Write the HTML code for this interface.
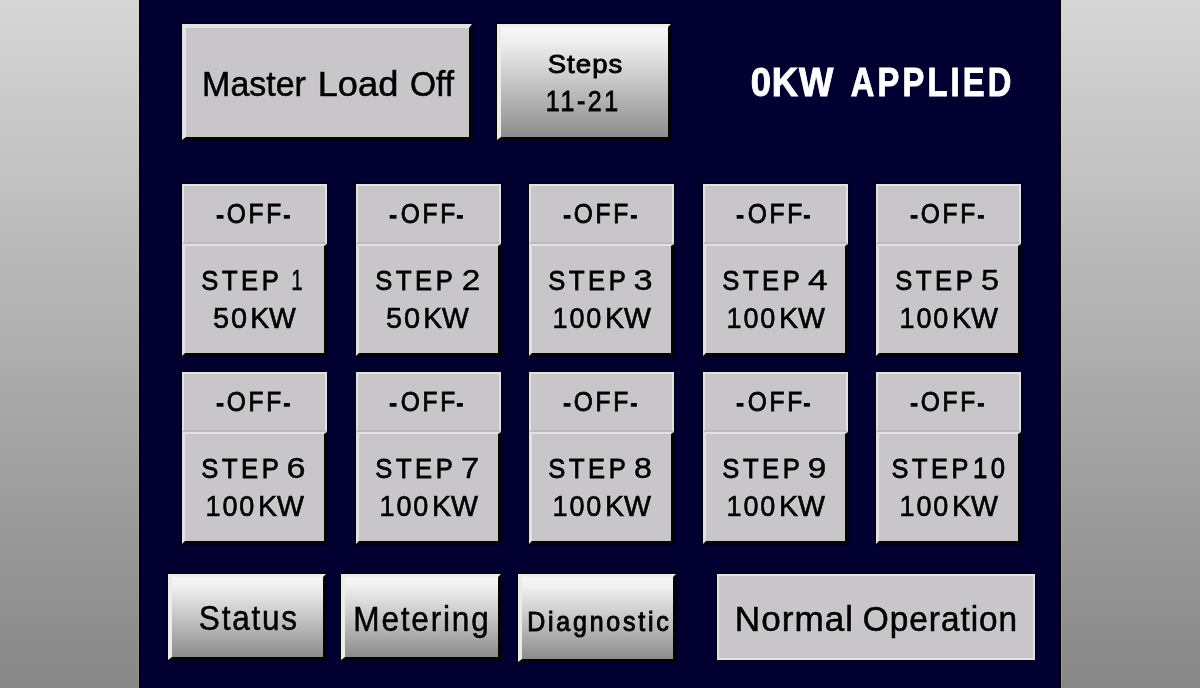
<!DOCTYPE html>
<html><head><meta charset="utf-8"><style>
html,body{margin:0;padding:0;width:1200px;height:688px;overflow:hidden;background:#010030;}
#wrap{position:absolute;left:0;top:0;width:1200px;height:688px;filter:blur(0.65px);}
#wrapt{position:absolute;left:0;top:0;width:1200px;height:688px;filter:blur(0.4px);}
.b{position:absolute;box-sizing:content-box;}
.h{box-shadow:0 0 1.5px 1px rgba(0,0,6,0.75);}
.t{position:absolute;white-space:nowrap;line-height:1;font-family:"Liberation Sans", sans-serif;transform-origin:50% 0;}
</style></head><body><div id="wrap">
<div class="b" style="left:0;top:0;width:139px;height:688px;background:linear-gradient(#d6d6d6,#878787)"></div>
<div class="b" style="left:1061px;top:0;width:139px;height:688px;background:linear-gradient(#d6d6d6,#878787)"></div>
<div class="b" style="left:139px;top:0;width:918px;height:688px;background:#010030;border-left:2px solid #00000c;border-right:2px solid #00000c"></div>
<div class="b" style="left:138px;top:0;width:1px;height:688px;background:rgba(230,230,255,0.12)"></div>
<div class="b" style="left:1061px;top:0;width:1px;height:688px;background:rgba(230,230,255,0.18)"></div>
<div class="b h" style="left:182px;top:24px;width:283px;height:109px;background:#c8c6c9;border-style:solid;border-width:4px 3px 3px 4px;border-color:#e2e2e4 #040404 #040404 #e2e2e4;"></div>
<div class="b h" style="left:497px;top:24px;width:167px;height:110px;background:linear-gradient(#f6f6f6 0%, #f0f0f0 12%, #dcdcdc 30%, #c6c6c6 50%, #a8a8a8 76%, #8c8c8c 100%);border-style:solid;border-width:3px 3px 3px 4px;border-color:#ecece8 #040404 #040404 #ecece8;"></div>
<div class="b h" style="left:182px;top:184px;width:145px;height:172px;"></div>
<div class="b" style="left:182px;top:184px;width:141px;height:56px;background:#c8c6c9;border-style:solid;border-width:2px 2px 2px 2px;border-color:#e2e2e4 #e2e2e4 #bbb9bd #e2e2e4;"></div>
<div class="b" style="left:182px;top:244px;width:139px;height:107px;background:#c8c6c9;border-style:solid;border-width:2px 3px 3px 3px;border-color:#e2e2e4 #040404 #040404 #e2e2e4;"></div>
<div class="b h" style="left:355.5px;top:184px;width:145px;height:172px;"></div>
<div class="b" style="left:355.5px;top:184px;width:141px;height:56px;background:#c8c6c9;border-style:solid;border-width:2px 2px 2px 2px;border-color:#e2e2e4 #e2e2e4 #bbb9bd #e2e2e4;"></div>
<div class="b" style="left:355.5px;top:244px;width:139.0px;height:107px;background:#c8c6c9;border-style:solid;border-width:2px 3px 3px 3px;border-color:#e2e2e4 #040404 #040404 #e2e2e4;"></div>
<div class="b h" style="left:529px;top:184px;width:145px;height:172px;"></div>
<div class="b" style="left:529px;top:184px;width:141px;height:56px;background:#c8c6c9;border-style:solid;border-width:2px 2px 2px 2px;border-color:#e2e2e4 #e2e2e4 #bbb9bd #e2e2e4;"></div>
<div class="b" style="left:529px;top:244px;width:139px;height:107px;background:#c8c6c9;border-style:solid;border-width:2px 3px 3px 3px;border-color:#e2e2e4 #040404 #040404 #e2e2e4;"></div>
<div class="b h" style="left:702.5px;top:184px;width:145px;height:172px;"></div>
<div class="b" style="left:702.5px;top:184px;width:141px;height:56px;background:#c8c6c9;border-style:solid;border-width:2px 2px 2px 2px;border-color:#e2e2e4 #e2e2e4 #bbb9bd #e2e2e4;"></div>
<div class="b" style="left:702.5px;top:244px;width:139.0px;height:107px;background:#c8c6c9;border-style:solid;border-width:2px 3px 3px 3px;border-color:#e2e2e4 #040404 #040404 #e2e2e4;"></div>
<div class="b h" style="left:876px;top:184px;width:145px;height:172px;"></div>
<div class="b" style="left:876px;top:184px;width:141px;height:56px;background:#c8c6c9;border-style:solid;border-width:2px 2px 2px 2px;border-color:#e2e2e4 #e2e2e4 #bbb9bd #e2e2e4;"></div>
<div class="b" style="left:876px;top:244px;width:139px;height:107px;background:#c8c6c9;border-style:solid;border-width:2px 3px 3px 3px;border-color:#e2e2e4 #040404 #040404 #e2e2e4;"></div>
<div class="b h" style="left:182px;top:372px;width:145px;height:172px;"></div>
<div class="b" style="left:182px;top:372px;width:141px;height:56px;background:#c8c6c9;border-style:solid;border-width:2px 2px 2px 2px;border-color:#e2e2e4 #e2e2e4 #bbb9bd #e2e2e4;"></div>
<div class="b" style="left:182px;top:432px;width:139px;height:107px;background:#c8c6c9;border-style:solid;border-width:2px 3px 3px 3px;border-color:#e2e2e4 #040404 #040404 #e2e2e4;"></div>
<div class="b h" style="left:355.5px;top:372px;width:145px;height:172px;"></div>
<div class="b" style="left:355.5px;top:372px;width:141px;height:56px;background:#c8c6c9;border-style:solid;border-width:2px 2px 2px 2px;border-color:#e2e2e4 #e2e2e4 #bbb9bd #e2e2e4;"></div>
<div class="b" style="left:355.5px;top:432px;width:139.0px;height:107px;background:#c8c6c9;border-style:solid;border-width:2px 3px 3px 3px;border-color:#e2e2e4 #040404 #040404 #e2e2e4;"></div>
<div class="b h" style="left:529px;top:372px;width:145px;height:172px;"></div>
<div class="b" style="left:529px;top:372px;width:141px;height:56px;background:#c8c6c9;border-style:solid;border-width:2px 2px 2px 2px;border-color:#e2e2e4 #e2e2e4 #bbb9bd #e2e2e4;"></div>
<div class="b" style="left:529px;top:432px;width:139px;height:107px;background:#c8c6c9;border-style:solid;border-width:2px 3px 3px 3px;border-color:#e2e2e4 #040404 #040404 #e2e2e4;"></div>
<div class="b h" style="left:702.5px;top:372px;width:145px;height:172px;"></div>
<div class="b" style="left:702.5px;top:372px;width:141px;height:56px;background:#c8c6c9;border-style:solid;border-width:2px 2px 2px 2px;border-color:#e2e2e4 #e2e2e4 #bbb9bd #e2e2e4;"></div>
<div class="b" style="left:702.5px;top:432px;width:139.0px;height:107px;background:#c8c6c9;border-style:solid;border-width:2px 3px 3px 3px;border-color:#e2e2e4 #040404 #040404 #e2e2e4;"></div>
<div class="b h" style="left:876px;top:372px;width:145px;height:172px;"></div>
<div class="b" style="left:876px;top:372px;width:141px;height:56px;background:#c8c6c9;border-style:solid;border-width:2px 2px 2px 2px;border-color:#e2e2e4 #e2e2e4 #bbb9bd #e2e2e4;"></div>
<div class="b" style="left:876px;top:432px;width:139px;height:107px;background:#c8c6c9;border-style:solid;border-width:2px 3px 3px 3px;border-color:#e2e2e4 #040404 #040404 #e2e2e4;"></div>
<div class="b h" style="left:168px;top:574px;width:151px;height:80px;background:linear-gradient(#f6f6f6 0%, #f0f0f0 12%, #dcdcdc 30%, #c6c6c6 50%, #a8a8a8 76%, #8c8c8c 100%);border-style:solid;border-width:3px 3px 3px 4px;border-color:#ecece8 #040404 #040404 #ecece8;"></div>
<div class="b h" style="left:341px;top:574px;width:153px;height:80px;background:linear-gradient(#f6f6f6 0%, #f0f0f0 12%, #dcdcdc 30%, #c6c6c6 50%, #a8a8a8 76%, #8c8c8c 100%);border-style:solid;border-width:3px 3px 3px 4px;border-color:#ecece8 #040404 #040404 #ecece8;"></div>
<div class="b h" style="left:518px;top:574px;width:151px;height:82px;background:linear-gradient(#f6f6f6 0%, #f0f0f0 12%, #dcdcdc 30%, #c6c6c6 50%, #a8a8a8 76%, #8c8c8c 100%);border-style:solid;border-width:3px 3px 3px 4px;border-color:#ecece8 #040404 #040404 #ecece8;"></div>
<div class="b h" style="left:717px;top:574px;width:314px;height:82px;background:#c8c6c9;border:2px solid #e2e2e4;"></div>
</div><div id="wrapt">
<div class="t" id="w_master" style="left:254.20px;top:65.94px;font-size:35.94px;font-weight:normal;color:#000;-webkit-text-stroke:0.6px #000;text-shadow:0 0 1.5px rgba(255,255,255,0.8);transform:translateX(-50%) scaleX(0.9454);">Master</div>
<div class="t" id="w_load" style="left:358.10px;top:65.94px;font-size:35.94px;font-weight:normal;color:#000;-webkit-text-stroke:0.6px #000;text-shadow:0 0 1.5px rgba(255,255,255,0.8);transform:translateX(-50%) scaleX(1.0085);">Load</div>
<div class="t" id="w_off" style="left:431.50px;top:65.94px;font-size:35.94px;font-weight:normal;color:#000;-webkit-text-stroke:0.6px #000;text-shadow:0 0 1.5px rgba(255,255,255,0.8);transform:translateX(-50%) scaleX(0.9305);">Off</div>
<div class="t" id="w_steps" style="left:585.30px;top:51.01px;font-size:26.00px;font-weight:normal;color:#000;-webkit-text-stroke:0.9px #000;letter-spacing:1px;padding-left:1px;text-shadow:0 0 1.5px rgba(255,255,255,0.8);transform:translateX(-50%) scaleX(1.0588);">Steps</div>
<div class="t" id="w_1121" style="left:581.60px;top:87.10px;font-size:28.84px;font-weight:normal;color:#000;-webkit-text-stroke:0.9px #000;letter-spacing:3px;padding-left:3px;text-shadow:0 0 1.5px rgba(255,255,255,0.8);transform:translateX(-50%) scaleX(0.8659);">11-21</div>
<div class="t" id="w_0kw" style="left:792.00px;top:62.09px;font-size:41.33px;font-weight:bold;color:#fff;-webkit-text-stroke:1.0px #fff;letter-spacing:1px;padding-left:1px;transform:translateX(-50%) scaleX(0.8797);">0KW</div>
<div class="t" id="w_applied" style="left:930.60px;top:62.09px;font-size:41.33px;font-weight:bold;color:#fff;-webkit-text-stroke:1.0px #fff;letter-spacing:4px;padding-left:4px;transform:translateX(-50%) scaleX(0.7903);">APPLIED</div>
<div class="t" id="t1_offa" style="left:219.70px;top:199.87px;font-size:28.44px;font-weight:normal;color:#000;-webkit-text-stroke:1.5px #000;text-shadow:0 0 1.5px rgba(255,255,255,0.8);transform:translateX(-50%) scaleX(0.8127);">-</div>
<div class="t" id="t1_off" style="left:254.40px;top:199.07px;font-size:28.44px;font-weight:normal;color:#000;-webkit-text-stroke:0.9px #000;letter-spacing:3px;padding-left:3px;text-shadow:0 0 1.5px rgba(255,255,255,0.8);transform:translateX(-50%) scaleX(0.8635);">OFF</div>
<div class="t" id="t1_offb" style="left:286.50px;top:199.87px;font-size:28.44px;font-weight:normal;color:#000;-webkit-text-stroke:1.5px #000;text-shadow:0 0 1.5px rgba(255,255,255,0.8);transform:translateX(-50%) scaleX(0.7131);">-</div>
<div class="t" id="t1_step" style="left:240.00px;top:266.10px;font-size:28.45px;font-weight:normal;color:#000;-webkit-text-stroke:0.9px #000;letter-spacing:4px;padding-left:4px;text-shadow:0 0 1.5px rgba(255,255,255,0.8);transform:translateX(-50%) scaleX(0.8980);">STEP</div>
<div class="t" id="t1_n" style="left:296.80px;top:265.88px;font-size:28.94px;font-weight:normal;color:#000;-webkit-text-stroke:0.5px #000;text-shadow:0 0 1.5px rgba(255,255,255,0.8);transform:translateX(-50%) scaleX(0.7123);">1</div>
<div class="t" id="t1_num" style="left:229.67px;top:304.00px;font-size:29.07px;font-weight:normal;color:#000;-webkit-text-stroke:0.7px #000;letter-spacing:2px;padding-left:2px;text-shadow:0 0 1.5px rgba(255,255,255,0.8);transform:translateX(-50%) scaleX(0.9946);">50</div>
<div class="t" id="t1_kw" style="left:272.60px;top:304.00px;font-size:29.07px;font-weight:normal;color:#000;-webkit-text-stroke:0.7px #000;text-shadow:0 0 1.5px rgba(255,255,255,0.8);transform:translateX(-50%) scaleX(0.9743);">KW</div>
<div class="t" id="t2_offa" style="left:393.20px;top:199.87px;font-size:28.44px;font-weight:normal;color:#000;-webkit-text-stroke:1.5px #000;text-shadow:0 0 1.5px rgba(255,255,255,0.8);transform:translateX(-50%) scaleX(0.8127);">-</div>
<div class="t" id="t2_off" style="left:427.90px;top:199.07px;font-size:28.44px;font-weight:normal;color:#000;-webkit-text-stroke:0.9px #000;letter-spacing:3px;padding-left:3px;text-shadow:0 0 1.5px rgba(255,255,255,0.8);transform:translateX(-50%) scaleX(0.8635);">OFF</div>
<div class="t" id="t2_offb" style="left:460.00px;top:199.87px;font-size:28.44px;font-weight:normal;color:#000;-webkit-text-stroke:1.5px #000;text-shadow:0 0 1.5px rgba(255,255,255,0.8);transform:translateX(-50%) scaleX(0.7131);">-</div>
<div class="t" id="t2_step" style="left:413.50px;top:266.10px;font-size:28.45px;font-weight:normal;color:#000;-webkit-text-stroke:0.9px #000;letter-spacing:4px;padding-left:4px;text-shadow:0 0 1.5px rgba(255,255,255,0.8);transform:translateX(-50%) scaleX(0.8980);">STEP</div>
<div class="t" id="t2_n" style="left:470.70px;top:265.87px;font-size:28.93px;font-weight:normal;color:#000;-webkit-text-stroke:0.5px #000;text-shadow:0 0 1.5px rgba(255,255,255,0.8);transform:translateX(-50%) scaleX(1.1524);">2</div>
<div class="t" id="t2_num" style="left:403.17px;top:304.00px;font-size:29.07px;font-weight:normal;color:#000;-webkit-text-stroke:0.7px #000;letter-spacing:2px;padding-left:2px;text-shadow:0 0 1.5px rgba(255,255,255,0.8);transform:translateX(-50%) scaleX(0.9946);">50</div>
<div class="t" id="t2_kw" style="left:446.10px;top:304.00px;font-size:29.07px;font-weight:normal;color:#000;-webkit-text-stroke:0.7px #000;text-shadow:0 0 1.5px rgba(255,255,255,0.8);transform:translateX(-50%) scaleX(0.9743);">KW</div>
<div class="t" id="t3_offa" style="left:566.70px;top:199.87px;font-size:28.44px;font-weight:normal;color:#000;-webkit-text-stroke:1.5px #000;text-shadow:0 0 1.5px rgba(255,255,255,0.8);transform:translateX(-50%) scaleX(0.8127);">-</div>
<div class="t" id="t3_off" style="left:601.40px;top:199.07px;font-size:28.44px;font-weight:normal;color:#000;-webkit-text-stroke:0.9px #000;letter-spacing:3px;padding-left:3px;text-shadow:0 0 1.5px rgba(255,255,255,0.8);transform:translateX(-50%) scaleX(0.8635);">OFF</div>
<div class="t" id="t3_offb" style="left:633.50px;top:199.87px;font-size:28.44px;font-weight:normal;color:#000;-webkit-text-stroke:1.5px #000;text-shadow:0 0 1.5px rgba(255,255,255,0.8);transform:translateX(-50%) scaleX(0.7131);">-</div>
<div class="t" id="t3_step" style="left:587.00px;top:266.10px;font-size:28.45px;font-weight:normal;color:#000;-webkit-text-stroke:0.9px #000;letter-spacing:4px;padding-left:4px;text-shadow:0 0 1.5px rgba(255,255,255,0.8);transform:translateX(-50%) scaleX(0.8980);">STEP</div>
<div class="t" id="t3_n" style="left:642.70px;top:265.87px;font-size:28.93px;font-weight:normal;color:#000;-webkit-text-stroke:0.5px #000;text-shadow:0 0 1.5px rgba(255,255,255,0.8);transform:translateX(-50%) scaleX(1.1861);">3</div>
<div class="t" id="t3_num" style="left:577.41px;top:304.00px;font-size:29.07px;font-weight:normal;color:#000;-webkit-text-stroke:0.7px #000;letter-spacing:2px;padding-left:2px;text-shadow:0 0 1.5px rgba(255,255,255,0.8);transform:translateX(-50%) scaleX(0.9291);">100</div>
<div class="t" id="t3_kw" style="left:628.21px;top:304.00px;font-size:29.07px;font-weight:normal;color:#000;-webkit-text-stroke:0.7px #000;text-shadow:0 0 1.5px rgba(255,255,255,0.8);transform:translateX(-50%) scaleX(0.9812);">KW</div>
<div class="t" id="t4_offa" style="left:740.20px;top:199.87px;font-size:28.44px;font-weight:normal;color:#000;-webkit-text-stroke:1.5px #000;text-shadow:0 0 1.5px rgba(255,255,255,0.8);transform:translateX(-50%) scaleX(0.8127);">-</div>
<div class="t" id="t4_off" style="left:774.90px;top:199.07px;font-size:28.44px;font-weight:normal;color:#000;-webkit-text-stroke:0.9px #000;letter-spacing:3px;padding-left:3px;text-shadow:0 0 1.5px rgba(255,255,255,0.8);transform:translateX(-50%) scaleX(0.8635);">OFF</div>
<div class="t" id="t4_offb" style="left:807.00px;top:199.87px;font-size:28.44px;font-weight:normal;color:#000;-webkit-text-stroke:1.5px #000;text-shadow:0 0 1.5px rgba(255,255,255,0.8);transform:translateX(-50%) scaleX(0.7131);">-</div>
<div class="t" id="t4_step" style="left:760.50px;top:266.10px;font-size:28.45px;font-weight:normal;color:#000;-webkit-text-stroke:0.9px #000;letter-spacing:4px;padding-left:4px;text-shadow:0 0 1.5px rgba(255,255,255,0.8);transform:translateX(-50%) scaleX(0.8980);">STEP</div>
<div class="t" id="t4_n" style="left:818.20px;top:265.87px;font-size:28.93px;font-weight:normal;color:#000;-webkit-text-stroke:0.5px #000;text-shadow:0 0 1.5px rgba(255,255,255,0.8);transform:translateX(-50%) scaleX(1.2279);">4</div>
<div class="t" id="t4_num" style="left:750.91px;top:304.00px;font-size:29.07px;font-weight:normal;color:#000;-webkit-text-stroke:0.7px #000;letter-spacing:2px;padding-left:2px;text-shadow:0 0 1.5px rgba(255,255,255,0.8);transform:translateX(-50%) scaleX(0.9291);">100</div>
<div class="t" id="t4_kw" style="left:801.71px;top:304.00px;font-size:29.07px;font-weight:normal;color:#000;-webkit-text-stroke:0.7px #000;text-shadow:0 0 1.5px rgba(255,255,255,0.8);transform:translateX(-50%) scaleX(0.9812);">KW</div>
<div class="t" id="t5_offa" style="left:913.70px;top:199.87px;font-size:28.44px;font-weight:normal;color:#000;-webkit-text-stroke:1.5px #000;text-shadow:0 0 1.5px rgba(255,255,255,0.8);transform:translateX(-50%) scaleX(0.8127);">-</div>
<div class="t" id="t5_off" style="left:948.40px;top:199.07px;font-size:28.44px;font-weight:normal;color:#000;-webkit-text-stroke:0.9px #000;letter-spacing:3px;padding-left:3px;text-shadow:0 0 1.5px rgba(255,255,255,0.8);transform:translateX(-50%) scaleX(0.8635);">OFF</div>
<div class="t" id="t5_offb" style="left:980.50px;top:199.87px;font-size:28.44px;font-weight:normal;color:#000;-webkit-text-stroke:1.5px #000;text-shadow:0 0 1.5px rgba(255,255,255,0.8);transform:translateX(-50%) scaleX(0.7131);">-</div>
<div class="t" id="t5_step" style="left:934.00px;top:266.10px;font-size:28.45px;font-weight:normal;color:#000;-webkit-text-stroke:0.9px #000;letter-spacing:4px;padding-left:4px;text-shadow:0 0 1.5px rgba(255,255,255,0.8);transform:translateX(-50%) scaleX(0.8980);">STEP</div>
<div class="t" id="t5_n" style="left:990.20px;top:265.87px;font-size:28.93px;font-weight:normal;color:#000;-webkit-text-stroke:0.5px #000;text-shadow:0 0 1.5px rgba(255,255,255,0.8);transform:translateX(-50%) scaleX(1.1182);">5</div>
<div class="t" id="t5_num" style="left:924.41px;top:304.00px;font-size:29.07px;font-weight:normal;color:#000;-webkit-text-stroke:0.7px #000;letter-spacing:2px;padding-left:2px;text-shadow:0 0 1.5px rgba(255,255,255,0.8);transform:translateX(-50%) scaleX(0.9291);">100</div>
<div class="t" id="t5_kw" style="left:975.21px;top:304.00px;font-size:29.07px;font-weight:normal;color:#000;-webkit-text-stroke:0.7px #000;text-shadow:0 0 1.5px rgba(255,255,255,0.8);transform:translateX(-50%) scaleX(0.9812);">KW</div>
<div class="t" id="t6_offa" style="left:219.70px;top:387.87px;font-size:28.44px;font-weight:normal;color:#000;-webkit-text-stroke:1.5px #000;text-shadow:0 0 1.5px rgba(255,255,255,0.8);transform:translateX(-50%) scaleX(0.8127);">-</div>
<div class="t" id="t6_off" style="left:254.40px;top:387.07px;font-size:28.44px;font-weight:normal;color:#000;-webkit-text-stroke:0.9px #000;letter-spacing:3px;padding-left:3px;text-shadow:0 0 1.5px rgba(255,255,255,0.8);transform:translateX(-50%) scaleX(0.8635);">OFF</div>
<div class="t" id="t6_offb" style="left:286.50px;top:387.87px;font-size:28.44px;font-weight:normal;color:#000;-webkit-text-stroke:1.5px #000;text-shadow:0 0 1.5px rgba(255,255,255,0.8);transform:translateX(-50%) scaleX(0.7131);">-</div>
<div class="t" id="t6_step" style="left:240.00px;top:454.10px;font-size:28.45px;font-weight:normal;color:#000;-webkit-text-stroke:0.9px #000;letter-spacing:4px;padding-left:4px;text-shadow:0 0 1.5px rgba(255,255,255,0.8);transform:translateX(-50%) scaleX(0.8980);">STEP</div>
<div class="t" id="t6_n" style="left:295.70px;top:453.87px;font-size:28.93px;font-weight:normal;color:#000;-webkit-text-stroke:0.5px #000;text-shadow:0 0 1.5px rgba(255,255,255,0.8);transform:translateX(-50%) scaleX(1.1798);">6</div>
<div class="t" id="t6_num" style="left:230.41px;top:492.00px;font-size:29.07px;font-weight:normal;color:#000;-webkit-text-stroke:0.7px #000;letter-spacing:2px;padding-left:2px;text-shadow:0 0 1.5px rgba(255,255,255,0.8);transform:translateX(-50%) scaleX(0.9291);">100</div>
<div class="t" id="t6_kw" style="left:281.21px;top:492.00px;font-size:29.07px;font-weight:normal;color:#000;-webkit-text-stroke:0.7px #000;text-shadow:0 0 1.5px rgba(255,255,255,0.8);transform:translateX(-50%) scaleX(0.9812);">KW</div>
<div class="t" id="t7_offa" style="left:393.20px;top:387.87px;font-size:28.44px;font-weight:normal;color:#000;-webkit-text-stroke:1.5px #000;text-shadow:0 0 1.5px rgba(255,255,255,0.8);transform:translateX(-50%) scaleX(0.8127);">-</div>
<div class="t" id="t7_off" style="left:427.90px;top:387.07px;font-size:28.44px;font-weight:normal;color:#000;-webkit-text-stroke:0.9px #000;letter-spacing:3px;padding-left:3px;text-shadow:0 0 1.5px rgba(255,255,255,0.8);transform:translateX(-50%) scaleX(0.8635);">OFF</div>
<div class="t" id="t7_offb" style="left:460.00px;top:387.87px;font-size:28.44px;font-weight:normal;color:#000;-webkit-text-stroke:1.5px #000;text-shadow:0 0 1.5px rgba(255,255,255,0.8);transform:translateX(-50%) scaleX(0.7131);">-</div>
<div class="t" id="t7_step" style="left:413.50px;top:454.10px;font-size:28.45px;font-weight:normal;color:#000;-webkit-text-stroke:0.9px #000;letter-spacing:4px;padding-left:4px;text-shadow:0 0 1.5px rgba(255,255,255,0.8);transform:translateX(-50%) scaleX(0.8980);">STEP</div>
<div class="t" id="t7_n" style="left:470.45px;top:453.87px;font-size:28.93px;font-weight:normal;color:#000;-webkit-text-stroke:0.5px #000;text-shadow:0 0 1.5px rgba(255,255,255,0.8);transform:translateX(-50%) scaleX(1.1307);">7</div>
<div class="t" id="t7_num" style="left:403.91px;top:492.00px;font-size:29.07px;font-weight:normal;color:#000;-webkit-text-stroke:0.7px #000;letter-spacing:2px;padding-left:2px;text-shadow:0 0 1.5px rgba(255,255,255,0.8);transform:translateX(-50%) scaleX(0.9291);">100</div>
<div class="t" id="t7_kw" style="left:454.71px;top:492.00px;font-size:29.07px;font-weight:normal;color:#000;-webkit-text-stroke:0.7px #000;text-shadow:0 0 1.5px rgba(255,255,255,0.8);transform:translateX(-50%) scaleX(0.9812);">KW</div>
<div class="t" id="t8_offa" style="left:566.70px;top:387.87px;font-size:28.44px;font-weight:normal;color:#000;-webkit-text-stroke:1.5px #000;text-shadow:0 0 1.5px rgba(255,255,255,0.8);transform:translateX(-50%) scaleX(0.8127);">-</div>
<div class="t" id="t8_off" style="left:601.40px;top:387.07px;font-size:28.44px;font-weight:normal;color:#000;-webkit-text-stroke:0.9px #000;letter-spacing:3px;padding-left:3px;text-shadow:0 0 1.5px rgba(255,255,255,0.8);transform:translateX(-50%) scaleX(0.8635);">OFF</div>
<div class="t" id="t8_offb" style="left:633.50px;top:387.87px;font-size:28.44px;font-weight:normal;color:#000;-webkit-text-stroke:1.5px #000;text-shadow:0 0 1.5px rgba(255,255,255,0.8);transform:translateX(-50%) scaleX(0.7131);">-</div>
<div class="t" id="t8_step" style="left:587.00px;top:454.10px;font-size:28.45px;font-weight:normal;color:#000;-webkit-text-stroke:0.9px #000;letter-spacing:4px;padding-left:4px;text-shadow:0 0 1.5px rgba(255,255,255,0.8);transform:translateX(-50%) scaleX(0.8980);">STEP</div>
<div class="t" id="t8_n" style="left:642.95px;top:453.87px;font-size:28.93px;font-weight:normal;color:#000;-webkit-text-stroke:0.5px #000;text-shadow:0 0 1.5px rgba(255,255,255,0.8);transform:translateX(-50%) scaleX(1.1076);">8</div>
<div class="t" id="t8_num" style="left:577.41px;top:492.00px;font-size:29.07px;font-weight:normal;color:#000;-webkit-text-stroke:0.7px #000;letter-spacing:2px;padding-left:2px;text-shadow:0 0 1.5px rgba(255,255,255,0.8);transform:translateX(-50%) scaleX(0.9291);">100</div>
<div class="t" id="t8_kw" style="left:628.21px;top:492.00px;font-size:29.07px;font-weight:normal;color:#000;-webkit-text-stroke:0.7px #000;text-shadow:0 0 1.5px rgba(255,255,255,0.8);transform:translateX(-50%) scaleX(0.9812);">KW</div>
<div class="t" id="t9_offa" style="left:740.20px;top:387.87px;font-size:28.44px;font-weight:normal;color:#000;-webkit-text-stroke:1.5px #000;text-shadow:0 0 1.5px rgba(255,255,255,0.8);transform:translateX(-50%) scaleX(0.8127);">-</div>
<div class="t" id="t9_off" style="left:774.90px;top:387.07px;font-size:28.44px;font-weight:normal;color:#000;-webkit-text-stroke:0.9px #000;letter-spacing:3px;padding-left:3px;text-shadow:0 0 1.5px rgba(255,255,255,0.8);transform:translateX(-50%) scaleX(0.8635);">OFF</div>
<div class="t" id="t9_offb" style="left:807.00px;top:387.87px;font-size:28.44px;font-weight:normal;color:#000;-webkit-text-stroke:1.5px #000;text-shadow:0 0 1.5px rgba(255,255,255,0.8);transform:translateX(-50%) scaleX(0.7131);">-</div>
<div class="t" id="t9_step" style="left:760.50px;top:454.10px;font-size:28.45px;font-weight:normal;color:#000;-webkit-text-stroke:0.9px #000;letter-spacing:4px;padding-left:4px;text-shadow:0 0 1.5px rgba(255,255,255,0.8);transform:translateX(-50%) scaleX(0.8980);">STEP</div>
<div class="t" id="t9_n" style="left:816.95px;top:453.87px;font-size:28.93px;font-weight:normal;color:#000;-webkit-text-stroke:0.5px #000;text-shadow:0 0 1.5px rgba(255,255,255,0.8);transform:translateX(-50%) scaleX(1.1563);">9</div>
<div class="t" id="t9_num" style="left:750.91px;top:492.00px;font-size:29.07px;font-weight:normal;color:#000;-webkit-text-stroke:0.7px #000;letter-spacing:2px;padding-left:2px;text-shadow:0 0 1.5px rgba(255,255,255,0.8);transform:translateX(-50%) scaleX(0.9291);">100</div>
<div class="t" id="t9_kw" style="left:801.71px;top:492.00px;font-size:29.07px;font-weight:normal;color:#000;-webkit-text-stroke:0.7px #000;text-shadow:0 0 1.5px rgba(255,255,255,0.8);transform:translateX(-50%) scaleX(0.9812);">KW</div>
<div class="t" id="t10_offa" style="left:913.70px;top:387.87px;font-size:28.44px;font-weight:normal;color:#000;-webkit-text-stroke:1.5px #000;text-shadow:0 0 1.5px rgba(255,255,255,0.8);transform:translateX(-50%) scaleX(0.8127);">-</div>
<div class="t" id="t10_off" style="left:948.40px;top:387.07px;font-size:28.44px;font-weight:normal;color:#000;-webkit-text-stroke:0.9px #000;letter-spacing:3px;padding-left:3px;text-shadow:0 0 1.5px rgba(255,255,255,0.8);transform:translateX(-50%) scaleX(0.8635);">OFF</div>
<div class="t" id="t10_offb" style="left:980.50px;top:387.87px;font-size:28.44px;font-weight:normal;color:#000;-webkit-text-stroke:1.5px #000;text-shadow:0 0 1.5px rgba(255,255,255,0.8);transform:translateX(-50%) scaleX(0.7131);">-</div>
<div class="t" id="t10_step" style="left:930.20px;top:454.10px;font-size:28.45px;font-weight:normal;color:#000;-webkit-text-stroke:0.9px #000;letter-spacing:4px;padding-left:4px;text-shadow:0 0 1.5px rgba(255,255,255,0.8);transform:translateX(-50%) scaleX(0.8904);">STEP</div>
<div class="t" id="t10_n" style="left:988.75px;top:454.06px;font-size:29.08px;font-weight:normal;color:#000;-webkit-text-stroke:0.9px #000;letter-spacing:4px;padding-left:4px;text-shadow:0 0 1.5px rgba(255,255,255,0.8);transform:translateX(-50%) scaleX(0.8852);">10</div>
<div class="t" id="t10_num" style="left:924.41px;top:492.00px;font-size:29.07px;font-weight:normal;color:#000;-webkit-text-stroke:0.7px #000;letter-spacing:2px;padding-left:2px;text-shadow:0 0 1.5px rgba(255,255,255,0.8);transform:translateX(-50%) scaleX(0.9291);">100</div>
<div class="t" id="t10_kw" style="left:975.21px;top:492.00px;font-size:29.07px;font-weight:normal;color:#000;-webkit-text-stroke:0.7px #000;text-shadow:0 0 1.5px rgba(255,255,255,0.8);transform:translateX(-50%) scaleX(0.9812);">KW</div>
<div class="t" id="w_status" style="left:247.50px;top:601.00px;font-size:35.86px;font-weight:normal;color:#000;-webkit-text-stroke:0.6px #000;letter-spacing:2px;padding-left:2px;text-shadow:0 0 1.5px rgba(255,255,255,0.8);transform:translateX(-50%) scaleX(0.8803);">Status</div>
<div class="t" id="w_meter" style="left:421.00px;top:600.60px;font-size:35.16px;font-weight:normal;color:#000;-webkit-text-stroke:0.6px #000;letter-spacing:2px;padding-left:2px;text-shadow:0 0 1.5px rgba(255,255,255,0.8);transform:translateX(-50%) scaleX(0.8979);">Metering</div>
<div class="t" id="w_diag" style="left:598.20px;top:607.90px;font-size:27.22px;font-weight:normal;color:#000;-webkit-text-stroke:1.0px #000;letter-spacing:3px;padding-left:3px;text-shadow:0 0 1.5px rgba(255,255,255,0.8);transform:translateX(-50%) scaleX(0.9193);">Diagnostic</div>
<div class="t" id="w_normal" style="left:793.50px;top:601.98px;font-size:34.42px;font-weight:normal;color:#000;-webkit-text-stroke:0.6px #000;letter-spacing:1px;padding-left:1px;text-shadow:0 0 1.5px rgba(255,255,255,0.8);transform:translateX(-50%) scaleX(1.0205);">Normal</div>
<div class="t" id="w_oper" style="left:939.80px;top:601.98px;font-size:34.42px;font-weight:normal;color:#000;-webkit-text-stroke:0.6px #000;letter-spacing:1px;padding-left:1px;text-shadow:0 0 1.5px rgba(255,255,255,0.8);transform:translateX(-50%) scaleX(0.9703);">Operation</div>
</div></body></html>
